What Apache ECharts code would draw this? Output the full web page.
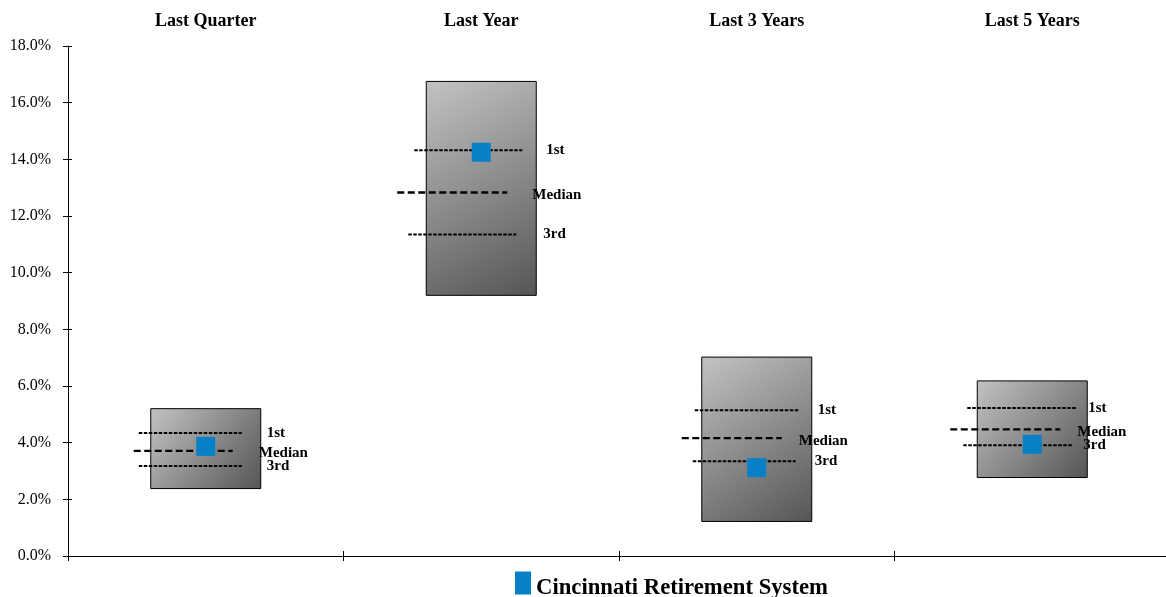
<!DOCTYPE html>
<html>
<head>
<meta charset="utf-8">
<script src="https://cdn.jsdelivr.net/npm/echarts@6/dist/echarts.min.js"></script>
<style>
  html, body { margin: 0; padding: 0; background: #ffffff; }
  #chart { width: 1166px; height: 597px; }
</style>
</head>
<body>
<div id="chart"></div>
<script>
// Peer-universe return ranges (percent) per period
const periods = ['Last Quarter', 'Last Year', 'Last 3 Years', 'Last 5 Years'];
const rangeTop = [5.20, 16.75, 7.02, 6.18];
const rangeBottom = [2.38, 9.20, 1.22, 2.77];
const firstQuartile = [4.34, 14.32, 5.14, 5.22];
const medianReturn = [3.71, 12.83, 4.16, 4.47];
const thirdQuartile = [3.18, 11.35, 3.34, 3.91];
const fundReturn = [3.87, 14.25, 3.12, 3.94];
const quartileNames = ['1st', 'Median', '3rd'];
const fundName = 'Cincinnati Retirement System';

// Pixel layout of each quartile marker line relative to the period centre:
// [line start, line end, label start]
const LINE_GEOM = [
  [[-67, 36, 61], [-72, 27, 53], [-67, 36, 61]],
  [[-67, 41, 65], [-84, 26, 51], [-73, 35, 62]],
  [[-62, 42, 61], [-75, 25, 42], [-64, 39, 58]],
  [[-65, 44, 56], [-82, 28, 45], [-69, 40, 51]]
];

const SERIF = '"Liberation Serif", "Times New Roman", serif';
const FUND_COLOR = '#0780c8';

const boxData = periods.map((p, i) => [i, rangeTop[i], rangeBottom[i]]);
const quartileData = [];
periods.forEach((p, i) => {
  [firstQuartile, medianReturn, thirdQuartile].forEach((arr, k) => {
    quartileData.push([i, arr[i], k]);
  });
});
const fundData = fundReturn.map((v, i) => [i, v]);

const chart = echarts.init(document.getElementById('chart'), null, { renderer: 'canvas' });

const gridBox = { left: 68, top: 46, width: 1102, height: 510, outerBoundsMode: 'none', containLabel: false };

chart.setOption({
  animation: false,
  backgroundColor: '#ffffff',
  grid: [
    Object.assign({}, gridBox),
    Object.assign({}, gridBox)
  ],
  legend: {
    data: [fundName],
    left: 515,
    top: 566,
    padding: 0,
    icon: 'rect',
    itemWidth: 16,
    itemHeight: 23,
    itemGap: 5,
    itemStyle: { color: FUND_COLOR, opacity: 1 },
    formatter: name => '{t|' + name + '}',
    textStyle: {
      rich: {
        t: {
          fontFamily: SERIF, fontWeight: 'bold', fontSize: 22.7, color: '#000',
          lineHeight: 22, padding: [11, 0, 0, 0]
        }
      }
    }
  },
  xAxis: [
    {
      type: 'category', gridIndex: 0, position: 'bottom', data: periods,
      axisLine: { show: true, lineStyle: { color: '#000', width: 1 } },
      axisTick: { show: true, inside: false, length: 5, interval: 0, lineStyle: { color: '#000' } },
      axisLabel: { show: false },
      splitLine: { show: false }
    },
    {
      type: 'category', gridIndex: 1, position: 'bottom', data: periods,
      axisLine: { show: false },
      axisTick: { show: true, inside: true, length: 5, interval: 0, lineStyle: { color: '#000' } },
      axisLabel: { show: false },
      splitLine: { show: false }
    },
    {
      type: 'category', gridIndex: 1, position: 'top', data: periods,
      axisLine: { show: false },
      axisTick: { show: false },
      axisLabel: {
        show: true, interval: 0, margin: 25, verticalAlign: 'middle',
        fontFamily: SERIF, fontWeight: 'bold', fontSize: 18, color: '#000'
      },
      splitLine: { show: false }
    }
  ],
  yAxis: [
    {
      type: 'value', gridIndex: 0, min: 0, max: 18, interval: 2,
      axisLine: { show: true, lineStyle: { color: '#000', width: 1 } },
      axisTick: { show: true, inside: false, length: 5, lineStyle: { color: '#000' } },
      axisLabel: {
        margin: 17, fontFamily: SERIF, fontSize: 16, color: '#000',
        formatter: v => v.toFixed(1) + '%'
      },
      splitLine: { show: false }
    },
    {
      type: 'value', gridIndex: 1, min: 0, max: 18, interval: 2,
      axisLine: { show: false },
      axisTick: { show: true, inside: true, length: 4, lineStyle: { color: '#000' } },
      axisLabel: { show: false },
      splitLine: { show: false }
    }
  ],
  series: [
    {
      name: 'Range',
      type: 'custom',
      xAxisIndex: 0, yAxisIndex: 0,
      z: 1,
      data: boxData,
      renderItem: (params, api) => {
        const top = api.coord([api.value(0), api.value(1)]);
        const bot = api.coord([api.value(0), api.value(2)]);
        const w = 110;
        return {
          type: 'rect',
          shape: { x: top[0] - w / 2, y: top[1], width: w, height: bot[1] - top[1] },
          style: {
            fill: new echarts.graphic.LinearGradient(0, 0, 1, 1, [
              { offset: 0, color: '#c3c3c3' },
              { offset: 1, color: '#555555' }
            ]),
            stroke: '#000',
            lineWidth: 1
          }
        };
      }
    },
    {
      name: 'Quartiles',
      type: 'custom',
      xAxisIndex: 0, yAxisIndex: 0,
      z: 2,
      data: quartileData,
      renderItem: (params, api) => {
        const cat = api.value(0);
        const k = api.value(2);
        const p = api.coord([cat, api.value(1)]);
        const g = LINE_GEOM[cat][k];
        const isMedian = k === 1;
        return {
          type: 'group',
          children: [
            {
              type: 'line',
              shape: { x1: p[0] + g[0], y1: p[1], x2: p[0] + g[1], y2: p[1] },
              style: {
                stroke: '#000',
                lineWidth: isMedian ? 2.3 : 2,
                lineDash: isMedian ? [7, 3.5] : [3.5, 1.5]
              }
            },
            {
              type: 'text',
              style: {
                text: quartileNames[k],
                x: p[0] + g[2],
                y: p[1] + (isMedian ? 2.5 : 0),
                align: 'left',
                verticalAlign: 'middle',
                font: 'bold 15px ' + SERIF,
                fill: '#000'
              }
            }
          ]
        };
      }
    },
    {
      name: fundName,
      type: 'scatter',
      xAxisIndex: 0, yAxisIndex: 0,
      z: 3,
      symbol: 'rect',
      symbolSize: 19,
      itemStyle: { color: FUND_COLOR, opacity: 1 },
      data: fundData
    }
  ]
});
</script>
</body>
</html>
